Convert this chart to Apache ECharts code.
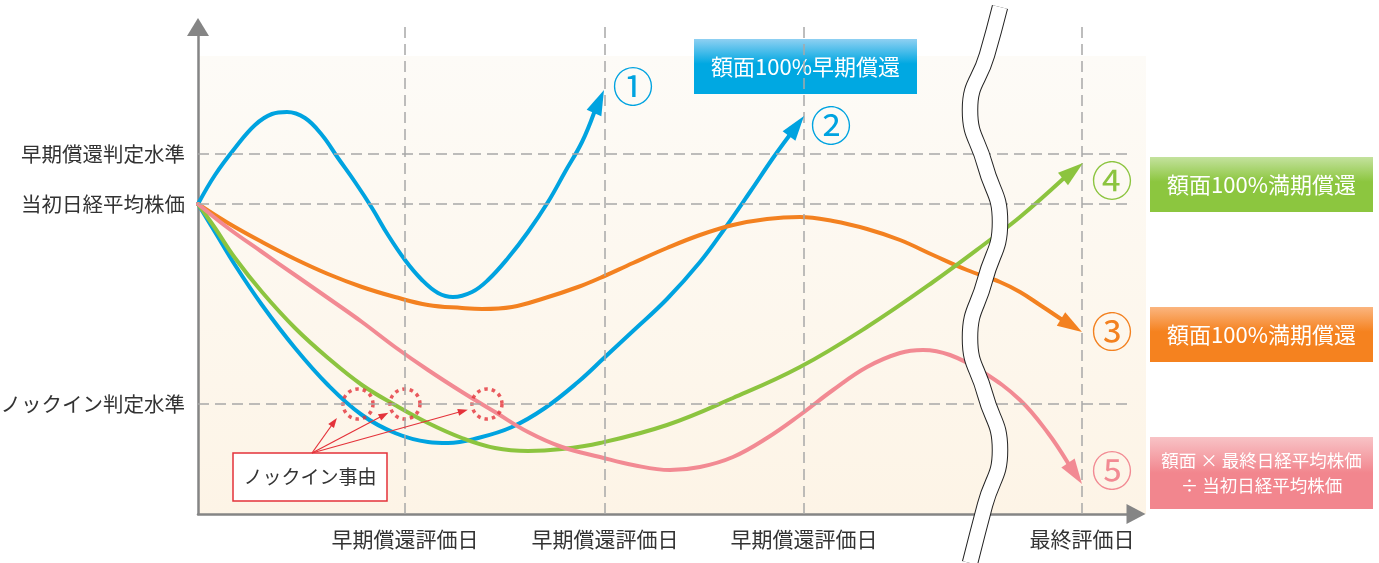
<!DOCTYPE html>
<html>
<head>
<meta charset="utf-8">
<script src="https://cdn.jsdelivr.net/npm/echarts@6/dist/echarts.min.js"></script>
<style>
html, body { margin: 0; background: #fff; }
#chart { width: 1379px; height: 563px; }
</style>
</head>
<body>
<div id="chart"></div>
<script>
// x: y軸からの距離, y: x軸からの高さ
const xTickValues = [207, 407, 606, 884];
const xTickLabels = ['早期償還評価日', '早期償還評価日', '早期償還評価日', '最終評価日'];
const yLevelValues = [110, 310, 360];
const yLevelLabels = ['ノックイン判定水準', '当初日経平均株価', '早期償還判定水準'];

// ① 早期償還（1回目）
const curve1 = [[0,310],[17,339],[37,366],[57,389],[74,400],[89,402],[107,396],[124,379],[140,356],[157,332],
  [174,306],[190,279],[207,254],[224,234],[240,221],[255,217],[274,222],[290,234],[310,256],[330,282],
  [350,312],[367,342],[384,372],[396,401]];
const tip1 = [406,424];
// ② 早期償還（3回目）
const curve2 = [[0,310],[17,282],[37,249],[64,209],[97,166],[130,129],[164,99],[197,81],[230,72],[250,71],
  [280,76],[314,87],[347,106],[380,132],[407,157],[435,183],[469,215],[502,252],[525,283],[552,322],
  [575,356],[591,378]];
const tip2 = [606,398];
// ③ 満期償還（ノックインなし）
const curve3 = [[0,310],[30,291],[64,272],[97,255],[130,240],[164,227],[197,217],[230,209],[264,206],[284,205],
  [314,207],[347,216],[380,227],[402,236],[435,251],[469,266],[502,279],[535,289],[569,295],[602,297],
  [635,293],[669,285],[702,274],[735,259],[769,244],[802,232],[822,222],[842,209],[863,195]];
const tip3 = [884,182];
// ④ 満期償還（ノックイン後に回復）
const curve4 = [[0,310],[17,286],[37,256],[64,222],[97,186],[130,156],[164,129],[197,109],[230,91],[264,76],
  [297,66],[330,63],[364,65],[402,71],[469,89],[535,116],[602,147],[669,187],[735,232],[792,274],
  [822,297],[865,335]];
const tip4 = [885,351];
// ⑤ 株価連動
const curve5 = [[0,310],[30,286],[64,262],[97,239],[130,216],[164,192],[197,167],[230,144],[264,122],[297,102],
  [330,82],[364,67],[402,57],[435,49],[472,44],[502,47],[535,57],[569,76],[602,99],[635,124],
  [669,147],[702,161],[725,164],[752,159],[785,142],[822,114],[850,81],[870,51]];
const tip5 = [884,30];

const markLabels = ['①', '②', '③', '④', '⑤'];

// ノックイン事由
const knockInPoints = [[160,110],[207,110],[289,110]];
const calloutFrom = [114,61];
const calloutTo = [[136,92],[186,99],[265,103]];

// 省略の波線
const breakWave = [[802,507],[789,459],[772,404],[787,349],[802,292],[787,234],[772,176],[787,120],
  [802,64],[787,9],[772,-49]];

const FONT = '"Noto Sans CJK JP", sans-serif';
const blue = '#00a3e0', orange = '#f38120', green = '#8cc43f', pink = '#f28a93', red = '#e4323a';

function arrowHead(points, tip, color) {
  const b = points[points.length - 1];
  const mid = [(b[0] + tip[0]) / 2, (b[1] + tip[1]) / 2];
  const len = Math.hypot(tip[0] - b[0], tip[1] - b[1]);
  return {
    silent: true, animation: false,
    symbol: ['none', 'triangle'],
    lineStyle: { color: color, width: 4, type: 'solid' },
    label: { show: false },
    emphasis: { disabled: true },
    data: [[{ coord: b, symbol: 'none' }, { coord: mid, symbol: 'triangle', symbolSize: [16, len] }]]
  };
}

function numberMark(tip, text, color, offset) {
  return {
    silent: true, animation: false,
    symbol: 'circle', symbolSize: 1,
    itemStyle: { color: 'transparent' },
    label: { show: true, position: 'inside', formatter: text, color: color, fontSize: 41, fontFamily: FONT, offset: offset },
    data: [{ coord: tip }]
  };
}

function curveSeries(name, points, tip, color, idx, offset) {
  return {
    name: name, type: 'line', data: points, smooth: 0.4, symbol: 'none', z: 3,
    lineStyle: { color: color, width: 4, cap: 'round', join: 'round' },
    markLine: arrowHead(points, tip, color),
    markPoint: numberMark(tip, markLabels[idx], color, offset)
  };
}

const gridLines = [];
yLevelValues.forEach(v => gridLines.push([{ coord: [0, v] }, { coord: [930, v] }]));
xTickValues.forEach(v => gridLines.push([{ coord: [v, 0] }, { coord: [v, 491] }]));

function boxGradient(top, base, stop) {
  return new echarts.graphic.LinearGradient(0, 0, 0, 1, [
    { offset: 0, color: top }, { offset: stop, color: base }, { offset: 1, color: base }
  ]);
}

function resultBox(x, y, w, h, fill, lines, fontSize) {
  return {
    type: 'group', x: x, y: y, z: 10,
    children: [
      { type: 'rect', shape: { x: 0, y: 0, width: w, height: h }, style: { fill: fill } },
      { type: 'text', x: w / 2, y: h / 2, style: { text: lines, fill: '#fff', font: fontSize + 'px ' + FONT,
        align: 'center', verticalAlign: 'middle', lineHeight: fontSize + 7 } }
    ]
  };
}

const chart = echarts.init(document.getElementById('chart'));
chart.setOption({
  animation: false,
  textStyle: { fontFamily: FONT },
  grid: { left: 198, right: 243, top: 23, bottom: 49, containLabel: false, outerBoundsMode: 'none' },
  xAxis: {
    type: 'value', min: 0, max: 938,
    axisLine: { show: true, symbol: ['none', 'triangle'], symbolSize: [20, 19], lineStyle: { color: '#858585', width: 2.5 } },
    axisTick: { show: false },
    splitLine: { show: false },
    axisLabel: {
      customValues: xTickValues,
      formatter: v => xTickLabels[xTickValues.indexOf(v)],
      fontSize: 21, color: '#333', margin: 15
    }
  },
  yAxis: {
    type: 'value', min: 0, max: 491,
    axisLine: { show: true, symbol: ['none', 'triangle'], symbolSize: [22, 18], symbolOffset: [0, -4], lineStyle: { color: '#858585', width: 2.5 } },
    axisTick: { show: false },
    splitLine: { show: false },
    axisLabel: {
      customValues: yLevelValues,
      formatter: v => yLevelLabels[yLevelValues.indexOf(v)],
      fontSize: 20.5, color: '#333', margin: 13
    }
  },
  graphic: [
    { type: 'rect', z: -1, shape: { x: 198, y: 56, width: 948, height: 458 },
      style: { fill: new echarts.graphic.LinearGradient(0, 0, 0, 1, [
        { offset: 0, color: '#fdfbf7' }, { offset: 1, color: '#fdf4e6' }]) } },
    resultBox(694, 39, 223, 55, boxGradient('#8fd0f2', '#00a8e2', 0.45), '額面100%早期償還', 22),
    resultBox(1150, 157, 223, 55, boxGradient('#c4e29e', '#8cc63f', 0.45), '額面100%満期償還', 22),
    resultBox(1150, 307, 223, 55, boxGradient('#fbb57f', '#f5821f', 0.45), '額面100%満期償還', 22),
    resultBox(1150, 437, 223, 72, boxGradient('#f8c3c6', '#f2868e', 0.5), '額面 × 最終日経平均株価\n÷ 当初日経平均株価', 17.5),
    {
      type: 'group', x: 233, y: 453, z: 10,
      children: [
        { type: 'rect', shape: { x: 0, y: 0, width: 154, height: 48 }, style: { fill: '#fff', stroke: red, lineWidth: 1.5 } },
        { type: 'text', x: 77, y: 24, style: { text: 'ノックイン事由', fill: '#333', font: '19px ' + FONT, align: 'center', verticalAlign: 'middle' } }
      ]
    }
  ],
  series: [
    {
      name: 'guides', type: 'line', data: [], z: 1,
      markLine: {
        silent: true, animation: false, symbol: ['none', 'none'],
        label: { show: false }, emphasis: { disabled: true },
        lineStyle: { color: '#a8a8a8', width: 1.5, type: [11, 6] },
        data: gridLines
      }
    },
    curveSeries('curve1', curve1, tip1, blue, 0, [29, -4]),
    curveSeries('curve2', curve2, tip2, blue, 1, [27, 9]),
    curveSeries('curve3', curve3, tip3, orange, 2, [30, -1]),
    curveSeries('curve4', curve4, tip4, green, 3, [29, 17]),
    curveSeries('curve5', curve5, tip5, pink, 4, [30, -14]),
    {
      name: 'knockIn', type: 'scatter', data: knockInPoints, z: 4,
      symbol: 'circle', symbolSize: 30, silent: true,
      itemStyle: { color: 'rgba(0,0,0,0)', borderColor: red, borderWidth: 3.5, borderType: [3.5, 4] },
      markLine: {
        silent: true, animation: false, symbol: ['none', 'triangle'], symbolSize: 9,
        label: { show: false }, emphasis: { disabled: true },
        lineStyle: { color: red, width: 1.2, type: 'solid' },
        data: calloutTo.map(p => [{ coord: calloutFrom }, { coord: p, symbolSize: [7, 10] }])
      }
    },
    {
      name: 'breakOutline', type: 'line', data: breakWave, smooth: 0.5, symbol: 'none', z: 6, clip: false, silent: true,
      lineStyle: { color: '#222', width: 16.5 }
    },
    {
      name: 'breakFill', type: 'line', data: breakWave, smooth: 0.5, symbol: 'none', z: 7, clip: false, silent: true,
      lineStyle: { color: '#fff', width: 14.5 }
    }
  ]
});
</script>
</body>
</html>
